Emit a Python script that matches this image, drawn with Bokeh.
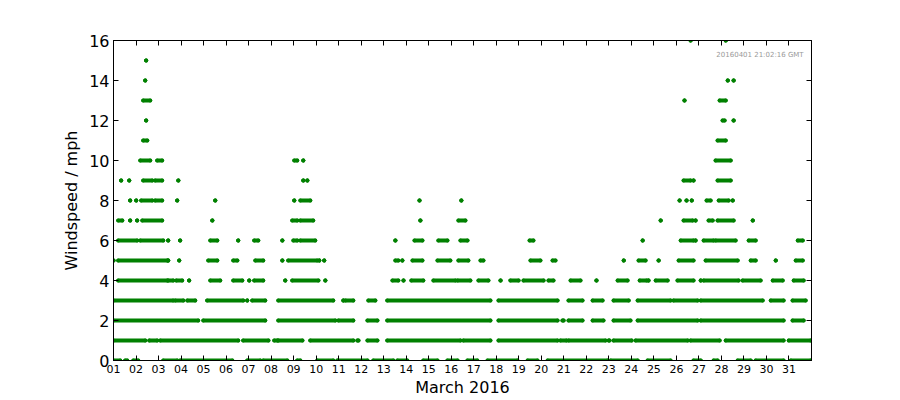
from bokeh.plotting import figure
from bokeh.models import LinearAxis, FixedTicker, Label, ColumnDataSource, Range1d
from bokeh.embed import file_html
from bokeh.resources import INLINE

# Windspeed readings, March 2016: for each integer windspeed (mph), the spans of
# time (fractional day of month) during which readings at that speed occur.
level_0 = [(1.00, 1.30), (1.52, 1.61), (1.88, 2.10), (3.21, 3.83), (3.96, 6.28), (6.94, 7.52),
           (7.65, 8.72), (9.16, 9.30), (10.05, 10.76), (10.94, 12.28), (12.54, 13.43), (13.61, 14.05),
           (14.76, 15.39), (15.83, 16.28), (16.72, 17.16), (17.61, 18.94), (19.39, 19.83), (20.28, 22.94),
           (23.08, 24.28), (24.72, 25.74), (26.76, 27.08), (27.65, 27.83), (28.72, 29.30), (29.52, 30.76),
           (31.08, 31.96)]
level_1 = [(1.00, 2.41), (2.59, 2.94), (3.08, 6.54), (6.76, 7.88), (8.14, 8.28), (8.32, 9.39),
           (9.74, 11.65), (11.83, 11.88), (12.28, 12.72), (13.16, 16.41), (16.54, 17.74), (18.10, 20.72),
           (20.85, 21.12), (21.21, 22.85), (22.99, 23.03), (23.21, 24.01), (24.19, 26.50), (26.63, 27.92),
           (28.19, 30.76), (30.99, 31.96)]
level_2 = [(1.00, 4.76), (4.99, 7.74), (8.32, 10.85), (10.99, 11.65), (12.28, 12.72), (13.16, 17.74),
           (18.10, 20.72), (20.94, 20.99), (21.21, 21.83), (22.28, 22.76), (23.21, 23.96), (24.28, 26.94),
           (27.08, 30.76), (31.16, 31.65)]
level_3 = [(1.00, 3.65), (3.74, 4.10), (4.28, 4.63), (5.16, 6.76), (6.94, 6.94), (7.16, 7.74),
           (8.32, 10.76), (11.21, 11.21), (11.30, 11.65), (12.32, 12.63), (13.16, 17.74), (18.10, 20.72),
           (21.21, 21.83), (22.28, 22.72), (23.21, 23.88), (24.28, 25.74), (25.87, 26.94), (27.08, 29.83),
           (30.19, 30.76), (31.16, 31.74)]
level_4 = [(1.21, 3.39), (3.43, 3.65), (3.79, 4.05), (4.36, 4.36), (5.30, 5.74), (6.32, 6.72),
           (7.03, 7.03), (7.25, 7.65), (8.63, 8.63), (8.94, 10.10), (10.41, 10.41), (13.39, 13.65),
           (13.88, 13.88), (14.23, 14.76), (15.21, 16.19), (16.28, 16.85), (17.21, 17.65), (18.19, 18.19),
           (18.63, 18.99), (19.21, 20.10), (20.32, 20.54), (21.30, 21.74), (22.45, 22.45), (23.39, 23.83),
           (24.37, 24.68), (24.76, 24.76), (25.08, 25.61), (26.05, 26.76), (27.08, 27.08), (27.21, 28.76),
           (28.94, 29.74), (30.28, 30.72), (31.21, 31.65)]
level_5 = [(1.00, 1.00), (1.21, 3.39), (3.43, 3.43), (3.92, 3.92), (5.21, 5.61), (6.32, 6.50),
           (7.30, 7.65), (8.50, 8.50), (8.76, 10.05), (10.14, 10.14), (10.36, 10.36), (13.52, 13.65),
           (13.83, 13.83), (14.28, 14.72), (15.39, 15.96), (16.32, 16.76), (17.30, 17.43), (19.52, 19.96),
           (20.50, 20.63), (23.66, 23.66), (24.32, 24.63), (25.21, 25.21), (26.10, 26.76), (27.30, 28.72),
           (29.30, 29.52), (30.41, 30.41), (31.30, 31.61)]
level_6 = [(1.21, 2.05), (2.19, 3.21), (3.43, 3.43), (3.96, 3.96), (5.30, 5.61), (6.54, 6.54),
           (7.25, 7.43), (8.50, 8.50), (8.99, 9.16), (9.30, 9.96), (13.52, 13.52), (14.37, 14.72),
           (15.43, 15.83), (16.41, 16.72), (19.48, 19.65), (24.50, 24.50), (26.19, 26.76), (26.85, 26.85),
           (27.21, 27.65), (27.74, 28.63), (29.21, 29.52), (31.39, 31.61)]
level_7 = [(1.21, 1.39), (1.74, 1.74), (2.05, 2.05), (2.28, 3.16), (5.39, 5.39), (8.94, 9.16),
           (9.30, 9.87), (14.63, 14.63), (16.32, 16.63), (25.30, 25.30), (26.32, 26.72), (26.85, 26.85),
           (27.43, 27.61), (27.83, 28.54), (29.39, 29.39)]
level_8 = [(1.74, 1.74), (2.01, 2.01), (2.23, 2.72), (2.85, 3.16), (3.83, 3.83), (5.52, 5.52),
           (9.03, 9.03), (9.30, 9.74), (14.59, 14.59), (16.45, 16.45), (26.14, 26.14), (26.45, 26.45),
           (26.68, 26.68), (27.34, 27.52), (27.88, 28.32), (28.50, 28.50)]
level_9 = [(1.34, 1.34), (1.70, 1.70), (2.32, 2.72), (2.85, 3.16), (3.88, 3.88), (9.43, 9.43),
           (9.61, 9.61), (26.32, 26.63), (26.76, 26.76), (27.83, 28.41)]
level_10 = [(2.19, 2.63), (2.94, 3.16), (9.03, 9.16), (9.43, 9.43), (27.74, 28.41)]
level_11 = [(2.32, 2.50), (27.83, 28.19)]
level_12 = [(2.45, 2.45), (28.05, 28.14), (28.54, 28.54)]
level_13 = [(2.32, 2.63), (26.36, 26.36), (27.92, 28.19)]
level_14 = [(2.41, 2.41), (28.28, 28.28), (28.54, 28.54)]
level_15 = [(2.45, 2.45)]
level_16 = [(26.63, 26.63), (28.19, 28.19)]

levels = [level_0, level_1, level_2, level_3, level_4, level_5, level_6, level_7, level_8,
          level_9, level_10, level_11, level_12, level_13, level_14, level_15, level_16]

day_ticks = [1, 2, 3, 4, 5, 6, 7, 8, 9, 10, 11, 12, 13, 14, 15, 16, 17, 18, 19, 20,
             21, 22, 23, 24, 25, 26, 27, 28, 29, 30, 31]
day_labels = ["01", "02", "03", "04", "05", "06", "07", "08", "09", "10", "11", "12", "13", "14",
              "15", "16", "17", "18", "19", "20", "21", "22", "23", "24", "25", "26", "27", "28",
              "29", "30", "31"]
speed_ticks = [0, 2, 4, 6, 8, 10, 12, 14, 16]
stamp = "20160401 21:02:16 GMT"

x0, x1, yy = [], [], []
for speed, spans in enumerate(levels):
    for a, b in spans:
        x0.append(a)
        x1.append(b)
        yy.append(speed)
src = ColumnDataSource(dict(x0=x0, x1=x1, y=yy))

FONT = "DejaVu Sans"
GREEN = "#008000"

p = figure(frame_width=698, frame_height=320,
           x_range=Range1d(1, 32), y_range=Range1d(0, 16),
           output_backend="svg", toolbar_location=None,
           min_border_left=113, min_border_top=40, min_border_right=81, min_border_bottom=20)
p.xgrid.visible = False
p.ygrid.visible = False
p.outline_line_color = "black"
p.outline_line_width = 1
p.background_fill_color = "white"
p.border_fill_color = "white"

p.segment(x0="x0", y0="y", x1="x1", y1="y", source=src, line_width=4,
          line_cap="round", line_color=GREEN)
p.scatter(x="x0", y="y", source=src, size=4, fill_color=GREEN, line_color=None)
p.scatter(x="x1", y="y", source=src, size=4, fill_color=GREEN, line_color=None)

# bottom axis
xa = p.xaxis[0]
xa.ticker = FixedTicker(ticks=day_ticks)
xa.major_label_overrides = {d: l for d, l in zip(day_ticks, day_labels)}
xa.major_tick_in = 5
xa.major_tick_out = 0
xa.minor_tick_line_color = None
xa.axis_line_color = "black"
xa.major_tick_line_color = "black"
xa.major_label_text_color = "black"
xa.major_label_text_font = FONT
xa.major_label_text_font_size = "11px"
xa.major_label_standoff = 4
xa.axis_label = "March 2016"
xa.axis_label_text_color = "black"
xa.axis_label_text_font = FONT
xa.axis_label_text_font_size = "16px"
xa.axis_label_text_font_style = "normal"
xa.axis_label_standoff = 2

# left axis
ya = p.yaxis[0]
ya.ticker = FixedTicker(ticks=speed_ticks)
ya.major_tick_in = 5
ya.major_tick_out = 0
ya.minor_tick_line_color = None
ya.axis_line_color = "black"
ya.major_tick_line_color = "black"
ya.major_label_text_color = "black"
ya.major_label_text_font = FONT
ya.major_label_text_font_size = "16px"
ya.major_label_standoff = 4
ya.axis_label = "Windspeed / mph"
ya.axis_label_text_color = "black"
ya.axis_label_text_font = FONT
ya.axis_label_text_font_size = "16px"
ya.axis_label_text_font_style = "normal"
ya.axis_label_standoff = 5

# top and right tick-only axes
top = LinearAxis(ticker=FixedTicker(ticks=day_ticks), major_tick_in=5, major_tick_out=0,
                 minor_tick_line_color=None, major_label_text_color=None,
                 major_label_text_font_size="1px", axis_line_color="black",
                 major_tick_line_color="black")
right = LinearAxis(ticker=FixedTicker(ticks=speed_ticks), major_tick_in=5, major_tick_out=0,
                   minor_tick_line_color=None, major_label_text_color=None,
                   major_label_text_font_size="1px", axis_line_color="black",
                   major_tick_line_color="black")
p.add_layout(top, "above")
p.add_layout(right, "right")

p.add_layout(Label(x=31.65, y=15.3, text=stamp, text_align="right", text_baseline="middle",
                   text_font=FONT, text_font_size="7px", text_color="#999999"))

open("out.html", "w").write(file_html(p, INLINE))
